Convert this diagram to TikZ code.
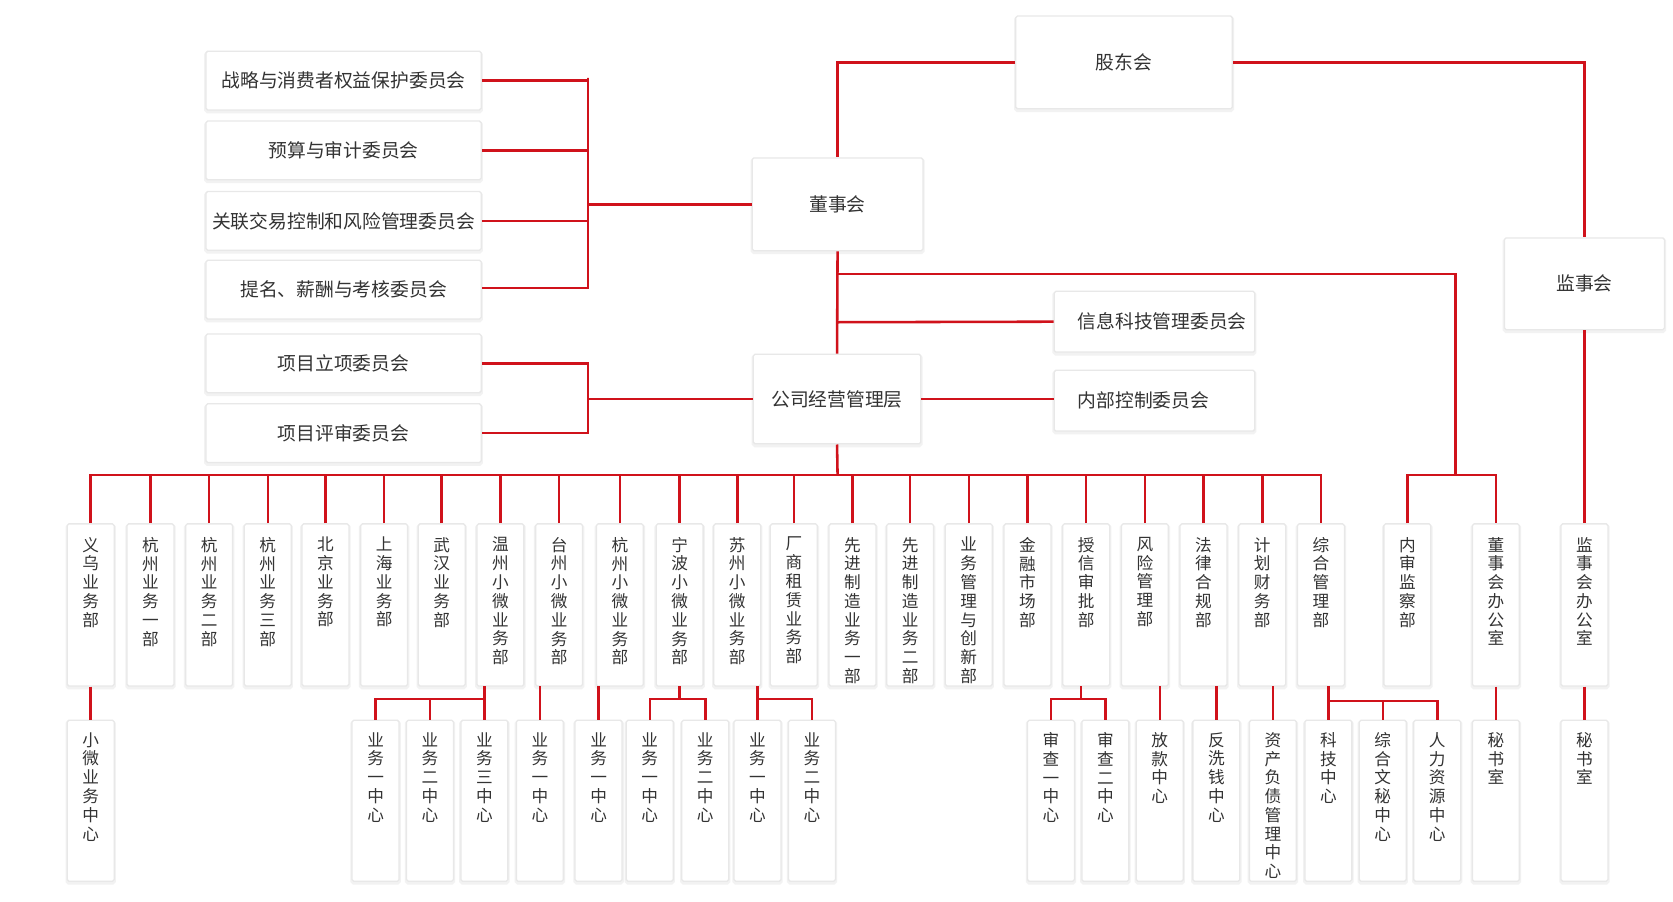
\documentclass[tikz,border=0pt]{standalone}
\usepackage{fontspec}
\setmainfont{Noto Sans CJK SC}
\usetikzlibrary{shadows}
\definecolor{lr}{HTML}{D0121B}
\definecolor{tx}{HTML}{333333}
\begin{document}
\begin{tikzpicture}[x=0.5pt,y=-0.5pt,
  bx/.style={draw=black!9,line width=0.6pt,fill=white,rectangle,rounded corners=0.8pt,general shadow={fill=black!10,draw=black!5,line width=1.6pt,shadow xshift=0pt,shadow yshift=-0.8pt}},
  vt/.style={anchor=north,align=center,inner sep=0pt,text=tx,font=\fontsize{7.8}{8.8}\selectfont},
  ht/.style={text=tx,font=\fontsize{8.8}{10}\selectfont},
  ln/.style={draw=lr,line width=1.2pt}]
\fill[white] (0,0) rectangle (1568,845);
\useasboundingbox (0,0) rectangle (1568,845);
% top boxes
\node[bx,minimum width=101.5pt,minimum height=43.5pt] (gd) at (1053.5,58.5) {};
\node[ht] at (gd) {股东会};
\node[bx,minimum width=80pt,minimum height=43.5pt] (ds) at (785,191.5) {};
\node[ht] at (ds) {董事会};
\node[bx,minimum width=75pt,minimum height=43pt] (js) at (1485,266) {};
\node[ht] at (js) {监事会};
\node[bx,minimum width=78.5pt,minimum height=42pt] (gs) at (784.5,374) {};
\node[ht] at (gs) {公司经营管理层};
\node[bx,minimum width=94pt,minimum height=28.5pt] (xx) at (1082,301.5) {};
\node[ht,anchor=west] at (1003,301.5) {信息科技管理委员会};
\node[bx,minimum width=94pt,minimum height=28.5pt] (nb) at (1082,375.5) {};
\node[ht,anchor=west] at (1003,375.5) {内部控制委员会};
% committees
\foreach \n/\y/\t in {c1/75.5/战略与消费者权益保护委员会,c2/141/预算与审计委员会,c3/207/关联交易控制和风险管理委员会,c4/271.5/提名、薪酬与考核委员会,c5/340.5/项目立项委员会,c6/406/项目评审委员会}{
  \node[bx,minimum width=129pt,minimum height=27.5pt] (\n) at (322,\y) {};
  \node[ht] at (\n) {\t};
}
% upper row
\foreach \n/\x/\t in {u1/85/{义\\乌\\业\\务\\部},u2/141/{杭\\州\\业\\务\\一\\部},u3/196/{杭\\州\\业\\务\\二\\部},u4/251/{杭\\州\\业\\务\\三\\部},u5/305/{北\\京\\业\\务\\部},u6/360/{上\\海\\业\\务\\部},u7/414/{武\\汉\\业\\务\\部},u8/469/{温\\州\\小\\微\\业\\务\\部},u9/524/{台\\州\\小\\微\\业\\务\\部},u10/581/{杭\\州\\小\\微\\业\\务\\部},u11/637/{宁\\波\\小\\微\\业\\务\\部},u12/691/{苏\\州\\小\\微\\业\\务\\部},u13/744/{厂\\商\\租\\赁\\业\\务\\部},u14/799/{先\\进\\制\\造\\业\\务\\一\\部},u15/853/{先\\进\\制\\造\\业\\务\\二\\部},u16/908/{业\\务\\管\\理\\与\\创\\新\\部},u17/963/{金\\融\\市\\场\\部},u18/1018/{授\\信\\审\\批\\部},u19/1073/{风\\险\\管\\理\\部},u20/1128/{法\\律\\合\\规\\部},u21/1183/{计\\划\\财\\务\\部},u22/1238/{综\\合\\管\\理\\部},u23/1319/{内\\审\\监\\察\\部},u24/1402/{董\\事\\会\\办\\公\\室},u25/1485/{监\\事\\会\\办\\公\\室}}{
  \node[bx,minimum width=22pt,minimum height=76pt] (\n) at (\x,567) {};
  \node[vt] at (\x,503) {\t};
}
% lower row
\foreach \n/\x/\t in {l1/85/{小\\微\\业\\务\\中\\心},l2/352/{业\\务\\一\\中\\心},l3/403/{业\\务\\二\\中\\心},l4/454/{业\\务\\三\\中\\心},l5/506/{业\\务\\一\\中\\心},l6/561/{业\\务\\一\\中\\心},l7/609/{业\\务\\一\\中\\心},l8/661/{业\\务\\二\\中\\心},l9/710/{业\\务\\一\\中\\心},l10/761/{业\\务\\二\\中\\心},l11/985/{审\\查\\一\\中\\心},l12/1036/{审\\查\\二\\中\\心},l13/1087/{放\\款\\中\\心},l14/1140/{反\\洗\\钱\\中\\心},l15/1193/{资\\产\\负\\债\\管\\理\\中\\心},l16/1245/{科\\技\\中\\心},l17/1296/{综\\合\\文\\秘\\中\\心},l18/1347/{人\\力\\资\\源\\中\\心},l19/1402/{秘\\书\\室},l20/1485/{秘\\书\\室}}{
  \node[bx,minimum width=22pt,minimum height=75.5pt] (\n) at (\x,750.5) {};
  \node[vt] at (\x,686) {\t};
}
% top connectors
\draw[ln] (gd.west) -| (ds.north);
\draw[ln] (gd.east) -| (js.north);
\draw[ln] (js.south) -- (u25.north);
\draw[ln] (u25.south) -- (l20.north);
\coordinate (bl) at (551,191.5);
\draw[ln] (ds.west) -- (bl);
\draw[ln] (c1.east) -| (551,73) -- (551,270) -- (c4.east |- 0,270);
\draw[ln] (c2.east) -- (c2.east -| bl);
\draw[ln] (c3.east) -- (c3.east -| bl);
\draw[ln] (c5.east) -| (551,406) -- (c6.east);
\draw[ln] (gs.west) -- (gs.west -| bl);
\draw[ln] (ds.south) -- (gs.north);
\draw[ln] (785,257) -| (1364,445);
\draw[ln] (u23.north) |- (1364,445) -| (u24.north);
\draw[ln] (785,302) -- (xx.west);
\draw[ln] (gs.east) -- (gs.east -| nb.west);
\coordinate (bus) at (785,445);
\draw[ln] (gs.south) -- (bus);
\draw[ln] (u1.north) |- (bus) -| (u22.north);
\foreach \i in {2,...,21}{\draw[ln] (u\i.north) -- (u\i.north |- bus);}
% lower connectors
\draw[ln] (u1.south) -- (l1.north);
\draw[ln] (454,643) -- (454,655);
\draw[ln] (l2.north) |- (454,655) -- (l4.north);
\draw[ln] (l3.north) -- (403,655);
\draw[ln] (l5.north) -- (506,643);
\draw[ln] (l6.north) -- (561,643);
\draw[ln] (637,643) -- (637,655);
\draw[ln] (l7.north) |- (l8.north |- 0,655) -- (l8.north);
\draw[ln] (l9.north) -- (710,643);
\draw[ln] (710,655) -| (l10.north);
\draw[ln] (1013,643) -- (1013,655);
\draw[ln] (l11.north) |- (l12.north |- 0,655) -- (l12.north);
\draw[ln] (l13.north) -- (1087,643);
\draw[ln] (l14.north) -- (1140,643);
\draw[ln] (l15.north) -- (1193,643);
\draw[ln] (l16.north) -- (1245,643);
\draw[ln] (1245,657) -| (l18.north);
\draw[ln] (l17.north) -- (1296,657);
\draw[ln] (u24.south) -- (l19.north);
\end{tikzpicture}
\end{document}
